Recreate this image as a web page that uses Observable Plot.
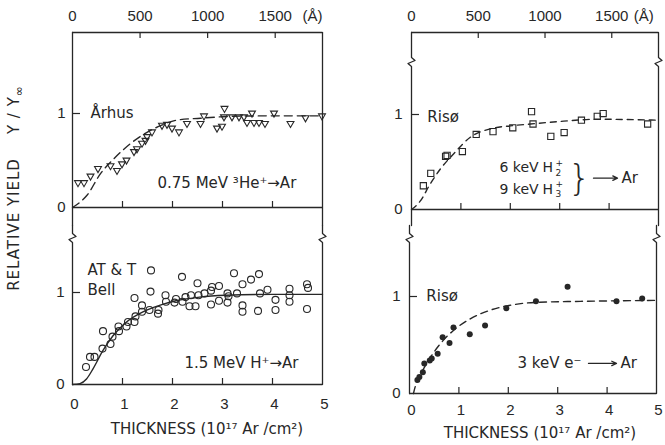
<!DOCTYPE html>
<html><head><meta charset="utf-8">
<script src="https://cdn.jsdelivr.net/npm/d3@7"></script>
<script src="https://cdn.jsdelivr.net/npm/@observablehq/plot@0.6"></script>
<style>
body{margin:0;background:#fff;}
#wrap{position:relative;width:665px;height:445px;background:#fff;font-family:"DejaVu Sans",sans-serif;color:#272727;overflow:hidden}
.pane{position:absolute}
#ytitle{position:absolute;left:15px;top:188px;transform:translate(-50%,-50%) rotate(-90deg);white-space:nowrap;font-size:15px;letter-spacing:1px}
#ytitle sub{font-size:12px}
</style></head><body><div id="wrap"><div id="ytitle">RELATIVE YIELD<span style="margin-left:24px">Y / Y<sub>∞</sub></span></div></div>
<script>
// ---------- data ----------
const thickTicks = [0, 1, 2, 3, 4, 5];
const angstromTicks = [0, 500, 1000, 1500];
const angstromPerUnit = 370; // 10^17 Ar/cm^2 -> Å

// Århus, 0.75 MeV 3He+ -> Ar (open down-triangles)
const aarhusT = [0.11,0.23,0.36,0.51,0.76,0.89,0.99,1.08,1.23,1.29,1.39,1.46,1.49,1.59,1.79,1.89,1.99,2.13,2.29,2.56,2.63,2.89,2.99,3.04,3.03,3.19,3.33,3.43,3.59,3.49,3.63,3.73,3.85,4.03,4.36,4.66,4.99];
const aarhusY = [0.26,0.26,0.33,0.41,0.44,0.39,0.46,0.50,0.59,0.62,0.68,0.71,0.75,0.80,0.87,0.88,0.84,0.80,0.89,0.89,0.97,0.84,0.86,1.05,0.96,0.96,0.96,0.96,1.00,0.90,0.90,0.90,0.89,1.00,0.89,0.95,0.97];
const aarhusFitT = [0,0.16,0.29,0.56,0.83,1.16,1.49,1.76,2.09,2.56,3.2,4.0,5];
const aarhusFitY = [0,0.06,0.13,0.36,0.52,0.68,0.80,0.87,0.93,0.95,0.97,0.975,0.975];

// AT&T Bell, 1.5 MeV H+ -> Ar (open circles)
const bellT = [0.27,0.35,0.44,0.60,0.61,0.76,0.80,0.92,0.93,1.08,1.11,1.24,1.26,1.24,1.39,1.39,1.54,1.56,1.57,1.71,1.72,1.86,1.87,2.04,2.07,2.19,2.20,2.26,2.34,2.46,2.37,2.50,2.52,2.64,2.77,2.79,2.77,2.93,2.93,3.10,3.12,3.10,3.23,3.29,3.40,3.40,3.40,3.57,3.73,3.71,3.75,3.90,4.06,4.06,4.34,4.34,4.34,4.69,4.71,4.69];
const bellY = [0.19,0.30,0.30,0.39,0.58,0.44,0.52,0.63,0.58,0.63,0.68,0.68,0.74,0.94,0.79,0.86,0.81,1.01,1.24,0.77,0.81,0.97,0.90,0.89,0.93,1.17,0.90,0.95,0.85,0.85,0.97,1.10,0.97,0.99,1.02,1.06,0.87,1.07,0.91,0.99,0.96,0.89,1.21,0.99,1.09,0.86,0.79,1.14,1.20,0.80,0.99,1.03,0.92,0.81,1.04,0.97,0.90,1.09,1.05,0.82];
const bellFitT = [0,0.15,0.28,0.41,0.61,0.81,1.08,1.41,1.74,2.07,2.54,3.07,4,5];
const bellFitY = [0,0.01,0.06,0.17,0.37,0.53,0.68,0.79,0.86,0.91,0.95,0.97,0.98,0.98];

// Risø, 6 keV H2+ / 9 keV H3+ -> Ar (open squares)
const risoIonT = [0.24,0.39,0.69,0.72,1.03,1.31,1.65,2.05,2.43,2.46,2.82,3.09,3.44,3.76,3.88,4.78];
const risoIonY = [0.25,0.38,0.56,0.57,0.61,0.79,0.82,0.86,1.03,0.90,0.77,0.81,0.94,0.98,1.01,0.90];
const risoIonFitT = [0,0.18,0.38,0.59,0.86,1.19,1.60,2.0,2.41,3.08,3.75,5];
const risoIonFitY = [0,0.09,0.27,0.43,0.59,0.76,0.85,0.88,0.90,0.93,0.95,0.94];

// Risø, 3 keV e- -> Ar (filled dots)
const risoElT = [0.16,0.20,0.27,0.30,0.41,0.45,0.57,0.67,0.81,0.89,1.22,1.53,1.96,2.56,3.20,4.19,4.71];
const risoElY = [0.14,0.17,0.22,0.31,0.34,0.36,0.41,0.58,0.52,0.68,0.61,0.70,0.88,0.95,1.10,0.95,0.98];
const risoElFitT = [0.08,0.11,0.25,0.42,0.62,0.89,1.23,1.64,2.04,2.58,3.46,5];
const risoElFitY = [0,0.06,0.22,0.37,0.51,0.65,0.77,0.86,0.91,0.94,0.95,0.96];

// ---------- helpers ----------
const INK = "#272727";
const FONT = "DejaVu Sans, sans-serif";
const TICKFONT = "Liberation Sans, Arial, sans-serif";
const rows = (xs, ys) => xs.map((x, i) => ({x, y: ys[i]}));
const wrap = document.getElementById("wrap");

const triangleDown = {
  draw(ctx, size) {
    const r = Math.sqrt(size / Math.PI);
    const w = r * 1.15;
    ctx.moveTo(-w, -r * 0.8);
    ctx.lineTo(w, -r * 0.8);
    ctx.lineTo(0, r * 1.2);
    ctx.closePath();
  }
};

// frame side polylines with optional zig-zag breaks (data coords)
function sides(yHi, yLo, breaks, pxX, pxY) {
  const dx = 3.5 / pxX, dy = 3 / pxY;
  return [0, 5].map(xs => {
    const pts = [[xs, yHi]];
    for (const a of breaks) {
      pts.push([xs, a], [xs + dx, a - dy], [xs - dx, a - 2 * dy], [xs, a - 3 * dy]);
    }
    pts.push([xs, yLo]);
    return Plot.line(pts, {stroke: INK, strokeWidth: 1.3});
  });
}

function panel({left, top, width, height, mL, mR, mT, mB, yDomain, marks}) {
  const svg = Plot.plot({
    width, height, marginLeft: mL, marginRight: mR, marginTop: mT, marginBottom: mB,
    x: {domain: [0, 5], axis: null},
    y: {domain: yDomain, axis: null},
    style: {background: "transparent", overflow: "visible", fontFamily: FONT, color: INK},
    marks
  });
  const d = document.createElement("div");
  d.className = "pane";
  d.style.left = left + "px";
  d.style.top = top + "px";
  d.style.width = width + "px";
  d.appendChild(svg);
  wrap.appendChild(d);
}

const txt = (s, x, y, o = {}) => Plot.text([s], {x: () => x, y: () => y, text: d => d, fontSize: 15, fill: INK, textAnchor: "start", ...o});
const tickText = (data, o) => Plot.text(data, {text: d => String(d), fontSize: 15, fill: INK, fontFamily: TICKFONT, ...o});

// ---------- top-left: Århus ----------
{
  const pxX = 50, pxY = 94, yHi = 175 / 94, yLo = -18 / 94;
  panel({
    left: 0, top: 0, width: 332, height: 225, mL: 72, mR: 10, mT: 32, mB: 0,
    yDomain: [yLo, yHi],
    marks: [
      Plot.ruleY([yHi], {stroke: INK, strokeWidth: 1.3}),
      Plot.ruleY([0], {stroke: INK, strokeWidth: 1.3}),
      ...sides(yHi, yLo, [], pxX, pxY),
      Plot.ruleX(thickTicks.filter(d => d > 0 && d < 5), {y1: 0, y2: 6 / pxY, stroke: INK, strokeWidth: 1.2}),
      Plot.ruleX(angstromTicks.filter(d => d > 0), {x: d => d / angstromPerUnit, y1: yHi, y2: yHi - 6 / pxY, stroke: INK, strokeWidth: 1.2}),
      Plot.ruleY([1], {x1: 0, x2: 8 / pxX, stroke: INK, strokeWidth: 1.2}),
      tickText(angstromTicks, {x: d => d / angstromPerUnit, y: yHi, dy: -16}),
      txt("(Å)", 4.8, yHi, {dy: -16, textAnchor: "middle", fontFamily: TICKFONT}),
      tickText([0, 1], {x: 0, y: d => d, dx: -7, textAnchor: "end"}),
      Plot.line(rows(aarhusFitT, aarhusFitY), {x: "x", y: "y", curve: "monotone-x", stroke: INK, strokeWidth: 1.4, strokeDasharray: "8,5"}),
      Plot.dot(rows(aarhusT, aarhusY), {x: "x", y: "y", symbol: triangleDown, r: 3, stroke: INK, fill: "none", strokeWidth: 1.1}),
      txt("Århus", 0.36, 1.0),
      txt("0.75 MeV ³He⁺→Ar", 1.70, 0.255)
    ]
  });
}

// ---------- bottom-left: AT&T Bell ----------
{
  const pxX = 50, pxY = 92, yHi = 159 / 92;
  panel({
    left: 0, top: 225, width: 332, height: 220, mL: 72, mR: 10, mT: 0, mB: 61,
    yDomain: [0, yHi],
    marks: [
      Plot.ruleY([0], {stroke: INK, strokeWidth: 1.3}),
      ...sides(yHi, 0, [151 / 92], pxX, pxY),
      Plot.ruleX(thickTicks.filter(d => d > 0 && d < 5), {y1: 0, y2: 6 / pxY, stroke: INK, strokeWidth: 1.2}),
      Plot.ruleY([1], {x1: 0, x2: 8 / pxX, stroke: INK, strokeWidth: 1.2}),
      tickText(thickTicks, {x: d => d, y: 0, dy: 20, dx: 2}),
      tickText([0, 1], {x: 0, y: d => d, dx: -8, textAnchor: "end"}),
      txt("THICKNESS (10¹⁷ Ar /cm²)", 2.69, 0, {dy: 45, textAnchor: "middle"}),
      Plot.line(rows(bellFitT, bellFitY), {x: "x", y: "y", curve: "monotone-x", stroke: INK, strokeWidth: 1.4}),
      Plot.dot(rows(bellT, bellY), {x: "x", y: "y", r: 3.5, stroke: INK, fill: "none", strokeWidth: 1.1}),
      txt("AT & T", 0.30, 1.24),
      txt("Bell", 0.30, 1.03),
      txt("1.5 MeV H⁺→Ar", 2.24, 0.23)
    ]
  });
}

// ---------- top-right: Risø ions ----------
{
  const pxX = 49.4, pxY = 95, yHi = 177 / 95, yLo = -16 / 95;
  const xf = px => (px - 411) / pxX;
  const r1 = 0.44, r2 = 0.21;
  panel({
    left: 332, top: 0, width: 333, height: 225, mL: 79, mR: 7, mT: 32, mB: 0,
    yDomain: [yLo, yHi],
    marks: [
      Plot.ruleY([yHi], {stroke: INK, strokeWidth: 1.3}),
      Plot.ruleY([0], {stroke: INK, strokeWidth: 1.3}),
      ...sides(yHi, yLo, [152 / 95], pxX, pxY),
      Plot.ruleX(thickTicks.filter(d => d > 0 && d < 5), {y1: 0, y2: 6 / pxY, stroke: INK, strokeWidth: 1.2}),
      Plot.ruleX(angstromTicks.filter(d => d > 0), {x: d => d / angstromPerUnit, y1: yHi, y2: yHi - 6 / pxY, stroke: INK, strokeWidth: 1.2}),
      Plot.ruleY([1], {x1: 0, x2: 8 / pxX, stroke: INK, strokeWidth: 1.2}),
      tickText(angstromTicks, {x: d => d / angstromPerUnit, y: yHi, dy: -16}),
      txt("(Å)", 4.7, yHi, {dy: -16, textAnchor: "middle", fontFamily: TICKFONT}),
      tickText([0, 1], {x: 0, y: d => d, dx: -9, textAnchor: "end"}),
      Plot.line(rows(risoIonFitT, risoIonFitY), {x: "x", y: "y", curve: "monotone-x", stroke: INK, strokeWidth: 1.4, strokeDasharray: "6,5"}),
      Plot.dot(rows(risoIonT, risoIonY), {x: "x", y: "y", symbol: "square", r: 3.5, stroke: INK, fill: "none", strokeWidth: 1.1}),
      txt("Risø", 0.32, 0.97),
      txt("6 keV", xf(499), r1, {fontSize: 14}),
      txt("H", xf(542), r1, {fontSize: 14}),
      txt("+", xf(555), r1, {dy: -5, fontSize: 9}),
      txt("2", xf(555), r1, {dy: 5, fontSize: 9}),
      txt("9 keV", xf(499), r2, {fontSize: 14}),
      txt("H", xf(542), r2, {fontSize: 14}),
      txt("+", xf(555), r2, {dy: -5, fontSize: 9}),
      txt("3", xf(555), r2, {dy: 5, fontSize: 9}),
      txt("}", xf(579), 0.33, {fontSize: 36, fontWeight: 200, textAnchor: "middle"}),
      Plot.arrow([{x1: xf(593), x2: xf(617), y: 0.33}], {x1: "x1", x2: "x2", y1: "y", y2: "y", stroke: INK, strokeWidth: 1.3, headLength: 6, headAngle: 50}),
      txt("Ar", xf(621), 0.33)
    ]
  });
}

// ---------- bottom-right: Risø electrons ----------
{
  const pxX = 49.4, pxY = 97, yHi = 168 / 97;
  const xf = px => (px - 409) / pxX;
  panel({
    left: 332, top: 225, width: 333, height: 220, mL: 77, mR: 9, mT: 0, mB: 52,
    yDomain: [0, yHi],
    marks: [
      Plot.ruleY([0], {stroke: INK, strokeWidth: 1.3}),
      ...sides(yHi, 0, [160 / 97], pxX, pxY),
      Plot.ruleX(thickTicks.filter(d => d > 0 && d < 5), {y1: 0, y2: 6 / pxY, stroke: INK, strokeWidth: 1.2}),
      Plot.ruleY([1], {x1: 0, x2: 8 / pxX, stroke: INK, strokeWidth: 1.2}),
      tickText(thickTicks, {x: d => d, y: 0, dy: 17, dx: 2}),
      tickText([0, 1], {x: 0, y: d => d, dx: -9, textAnchor: "end"}),
      txt("THICKNESS (10¹⁷ Ar /cm²)", 2.64, 0, {dy: 40, textAnchor: "middle"}),
      Plot.line(rows(risoElFitT, risoElFitY), {x: "x", y: "y", curve: "monotone-x", stroke: INK, strokeWidth: 1.4, strokeDasharray: "7,5"}),
      Plot.dot(rows(risoElT, risoElY), {x: "x", y: "y", r: 3, fill: INK, stroke: "none"}),
      txt("Risø", 0.34, 1.0),
      txt("3 keV e⁻", xf(517), 0.31),
      Plot.arrow([{x1: xf(588), x2: xf(616), y: 0.31}], {x1: "x1", x2: "x2", y1: "y", y2: "y", stroke: INK, strokeWidth: 1.3, headLength: 6, headAngle: 50}),
      txt("Ar", xf(620), 0.31)
    ]
  });
}
</script>
</body></html>
